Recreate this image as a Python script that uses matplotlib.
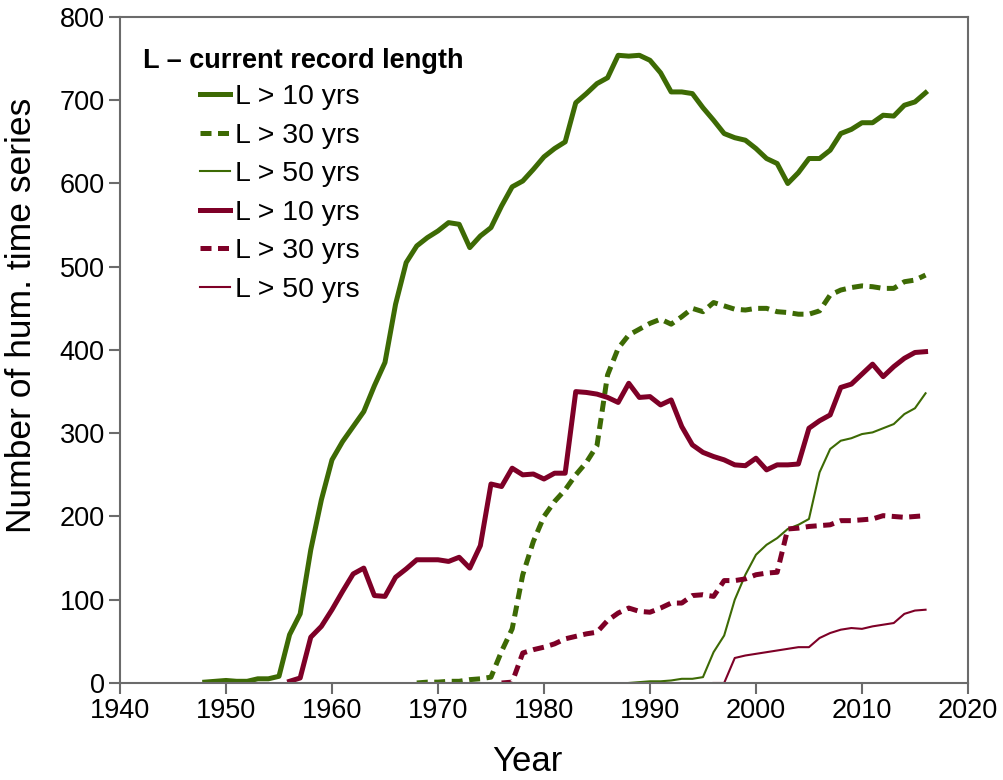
import numpy as np
import matplotlib
matplotlib.use("Agg")
import matplotlib.pyplot as plt

plt.rcParams['font.family'] = ['Liberation Sans', 'DejaVu Sans']

green = "#3d6a04"
red = "#7e0027"

# green series
g10_years = list(range(1948, 2017))
g10 = [1, 2, 3, 2, 2, 5, 5, 8, 58, 83, 160, 220, 268, 290, 308, 326, 357, 385, 455, 505,
       525, 535, 543, 553, 551, 523, 537, 547, 573, 596, 603, 617, 632, 642, 650, 697, 708, 720,
       727, 754, 753, 754, 748, 733, 710, 710, 708, 691, 676, 660, 655, 652, 642, 630, 624, 600,
       613, 630, 630, 640, 660, 665, 673, 673, 682, 681, 694, 698, 709]

g30_years = list(range(1968, 2017))
g30 = [0, 1, 1, 2, 2, 4, 5, 7, 38, 65, 130, 170, 200, 218, 232, 250, 265, 285, 370, 402,
       418, 425, 432, 437, 431, 440, 450, 446, 457, 453, 449, 448, 450, 450, 446, 445, 443, 443,
       447, 466, 472, 475, 477, 476, 474, 474, 482, 484, 490]

g50_years = list(range(1988, 2017))
g50 = [0, 1, 2, 2, 3, 5, 5, 7, 37, 57, 100, 130, 154, 166, 174, 185, 190, 197, 253, 281,
       291, 294, 299, 301, 306, 311, 323, 330, 348]

# red series
r10_years = list(range(1956, 2017))
r10 = [2, 6, 55, 68, 88, 110, 131, 138, 105, 104, 127, 137, 148, 148, 148, 146, 151, 138, 165,
       239, 236, 258, 250, 251, 245, 252, 252, 350, 349, 347, 343, 337, 360, 343, 344, 334, 340,
       308, 286, 277, 272, 268, 262, 261, 270, 256, 262, 262, 263, 306, 315, 322, 355, 359, 371,
       383, 368, 380, 390, 397, 398]

r30_years = list(range(1976, 2017))
r30 = [0, 1, 36, 40, 43, 47, 53, 56, 59, 61, 75, 84, 90, 86, 85, 90, 96, 96, 105, 106, 104,
       123, 123, 125, 130, 132, 133, 185, 186, 188, 189, 190, 195, 195, 196, 197, 201, 200, 199,
       200, 201]

r50_years = list(range(1996, 2017))
r50 = [0, 0, 30, 33, 35, 37, 39, 41, 43, 43, 54, 60, 64, 66, 65, 68, 70, 72, 83, 87, 88]

labels = ["L > 10 yrs", "L > 30 yrs", "L > 50 yrs"]

fig = plt.figure(figsize=(10.04, 7.8), dpi=100)
ax = fig.add_axes([0.1195, 0.1244, 0.8446, 0.8538])

thick = 3.6
thin = 1.5
dash = (0, (2.2, 1.3))

ax.plot(g10_years, g10, color=green, lw=thick, label=labels[0], solid_joinstyle='round')
ax.plot(g30_years, g30, color=green, lw=thick, ls=dash, label=labels[1])
ax.plot(g50_years, g50, color=green, lw=thin, label=labels[2])
ax.plot(r10_years, r10, color=red, lw=thick, label=labels[0], solid_joinstyle='round')
ax.plot(r30_years, r30, color=red, lw=thick, ls=dash, label=labels[1])
ax.plot(r50_years, r50, color=red, lw=thin, label=labels[2])

ax.set_xlim(1940, 2020)
ax.set_ylim(0, 800)
ax.set_xticks(range(1940, 2021, 10))
ax.set_yticks(range(0, 801, 100))

for s in ax.spines.values():
    s.set_color("#6b6b6b")
    s.set_linewidth(1.5)
ax.tick_params(direction='out', length=8, width=1.5, color="#6b6b6b",
               labelsize=19.5, pad=3)

ax.set_xlabel("Year", fontsize=25)
ax.set_ylabel("Number of hum. time series", fontsize=25.5)
ax.xaxis.set_label_coords(0.481, -0.093)
ax.yaxis.set_label_coords(-0.097, 0.5526)

ax.text(0.027, 0.934, "L – current record length", transform=ax.transAxes,
        fontsize=19.5, fontweight='bold', va='center', ha='left')

leg = ax.legend(loc='upper left', bbox_to_anchor=(0.094, 0.899), frameon=False,
                fontsize=20.5, handlelength=1.05, handletextpad=0.2,
                labelspacing=0.44, borderaxespad=0, borderpad=0)

fig.savefig("out.png", dpi=100)
